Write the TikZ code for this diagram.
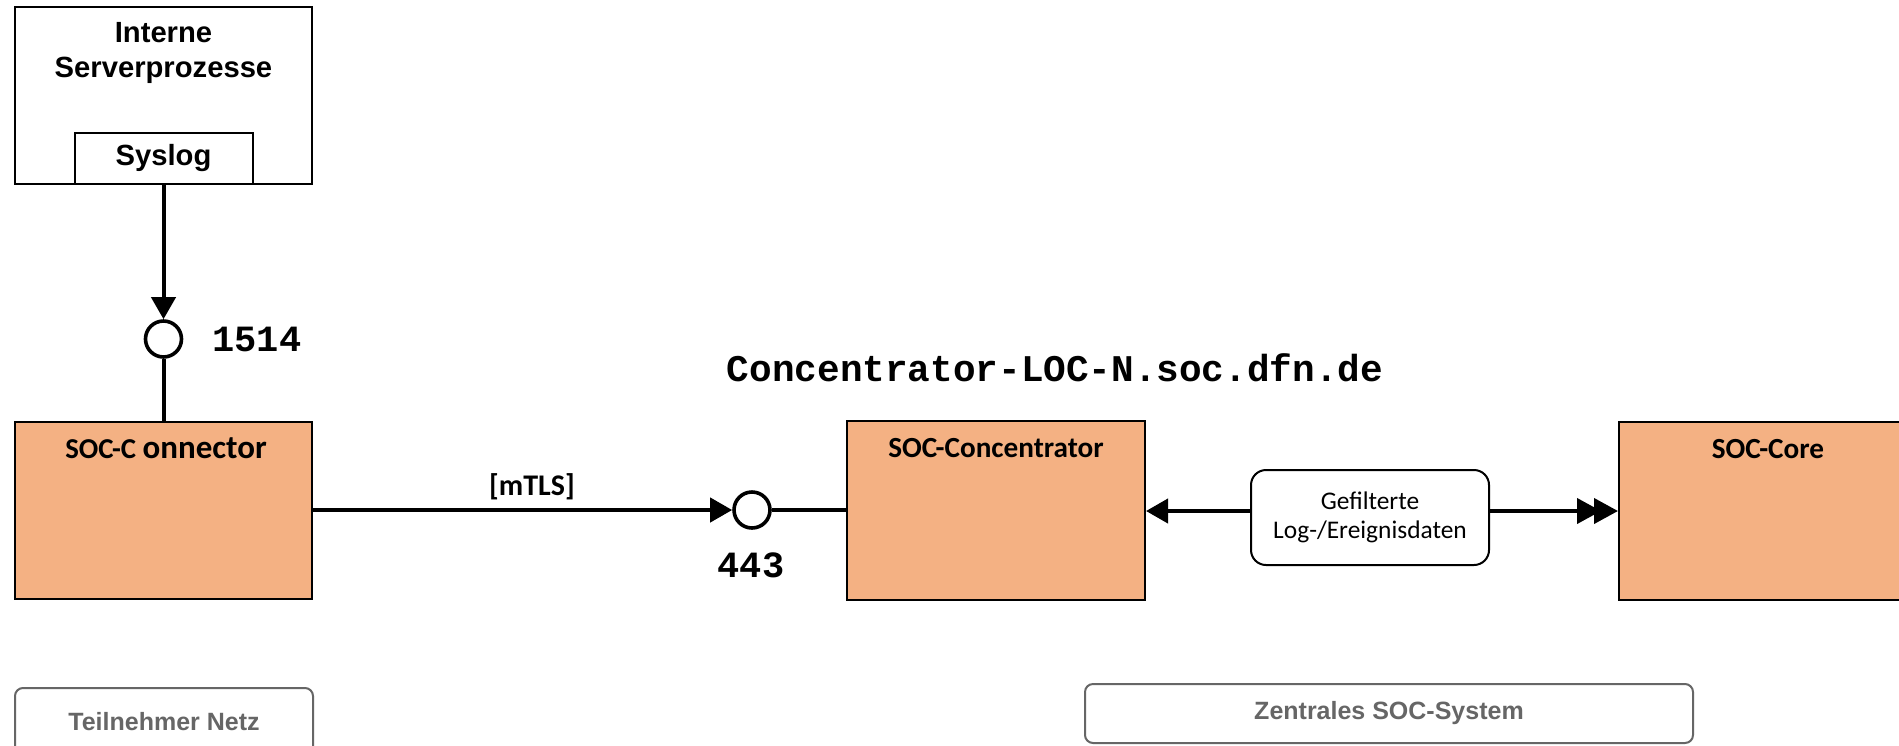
\documentclass[tikz,border=0pt]{standalone}
\usepackage{fontspec}
\usetikzlibrary{arrows.meta}
\newfontfamily\arialf{Liberation Sans}
\newfontfamily\calf{Carlito}
\newfontfamily\courf{Liberation Mono}
\definecolor{socorange}{HTML}{F4B183}
\definecolor{grpgray}{HTML}{666666}
\tikzset{
  plainbox/.style={draw=black, line width=1pt, fill=white, inner sep=0pt},
  socbox/.style={draw=black, line width=1pt, fill=socorange, inner sep=0pt},
  port/.style={circle, draw=black, line width=1.8pt, fill=white, minimum size=18pt, inner sep=0pt},
  conn/.style={line width=2pt},
  arr/.style={line width=2pt, -{Triangle[length=11pt,width=12pt]}},
  arrtwo/.style={line width=2pt, -{Triangle[length=12pt,width=12.5pt,sep=-3.5pt]Triangle[length=12pt,width=12.5pt]}},
  grpbox/.style={draw=grpgray, line width=1pt, rounded corners=4pt, fill=white, inner sep=0pt,
    text=grpgray, font=\arialf\bfseries\fontsize{12.5}{15}\selectfont},
  infobox/.style={draw=black, line width=1pt, rounded corners=7.5pt, fill=white, inner sep=0pt, align=center,
    font=\calf\fontsize{12.7}{14.5}\selectfont},
  arialtitle/.style={font=\arialf\bfseries\fontsize{14.6}{17.5}\selectfont, align=center, inner sep=0pt},
  caltitle/.style={font=\calf\bfseries\fontsize{14.6}{17}\selectfont, inner sep=0pt},
  portlabel/.style={font=\courf\bfseries\fontsize{18.5}{22}\selectfont, inner sep=0pt}
}
\begin{document}
\begin{tikzpicture}[x=0.5pt, y=-0.5pt]
\useasboundingbox (0,0) rectangle (1899,745);
\clip (0,0) rectangle (1899,745);
\fill[white] (0,0) rectangle (1899,745);

% Interne Serverprozesse
\node[plainbox, minimum width=148.5pt, minimum height=88.5pt] (srv) at (163.5,95.5) {};
\node[arialtitle] (srvtext) at (163.5,52.5) {Interne\\Serverprozesse};
\node[plainbox, minimum width=89pt, minimum height=25.5pt, font=\arialf\bfseries\fontsize{14.6}{16}\selectfont] (syslog) at (163.5,158.5) {Syslog};

% port 1514
\node[port] (p1514) at (163.5,339) {};
\node[portlabel] (l1514) at (257,339) {1514};

% SOC-Connector
\node[socbox, minimum width=148.5pt, minimum height=88.5pt] (connbox) at (163.5,510) {};
\node[inner sep=0pt] (conntext) at (166,448) {\calf\bfseries\fontsize{14.4}{17}\selectfont SOC-C \fontsize{16.5}{17}\selectfont onnector};

\draw[arr] (syslog.south) -- (p1514.north);
\draw[conn] (p1514.south) -- (connbox.north);

% port 443
\node[port] (p443) at (752,510) {};
\node[portlabel] (l443) at (751,565) {443};
\draw[arr] (connbox.east) -- (p443.west);
\node[caltitle, font=\calf\bfseries\fontsize{15}{17}\selectfont] (mtls) at (532,487) {[mTLS]};

% hostname
\node[portlabel, font=\courf\bfseries\fontsize{18.85}{22}\selectfont] (host) at (1055,368) {Concentrator-LOC-N.soc.dfn.de};

% SOC-Concentrator
\node[socbox, minimum width=149pt, minimum height=89.5pt] (conc) at (996,510.5) {};
\node[caltitle] (conctext) at (996,448) {SOC-Concentrator};
\draw[conn] (p443.east) -- (p443.east -| conc.west);

% SOC-Core
\node[socbox, minimum width=148.5pt, minimum height=89pt] (core) at (1767.5,511) {};
\node[caltitle] (coretext) at (1768,449) {SOC-Core};

% Gefilterte Daten
\node[infobox, minimum width=119pt, minimum height=47.5pt] (gef) at (1370,517.5) {Gefilterte\\Log-/Ereignisdaten};
\draw[arr] (gef.west |- 0,511) -- (conc.east |- 0,511);
\draw[arrtwo] (gef.east |- 0,511) -- (core.west |- 0,511);

% groups
\node[grpbox, minimum width=149pt, minimum height=34pt] (teil) at (164,722) {Teilnehmer Netz};
\node[grpbox, minimum width=304pt, minimum height=29.5pt] (zent) at (1389,713.5) {Zentrales SOC-System};
\end{tikzpicture}
\end{document}
